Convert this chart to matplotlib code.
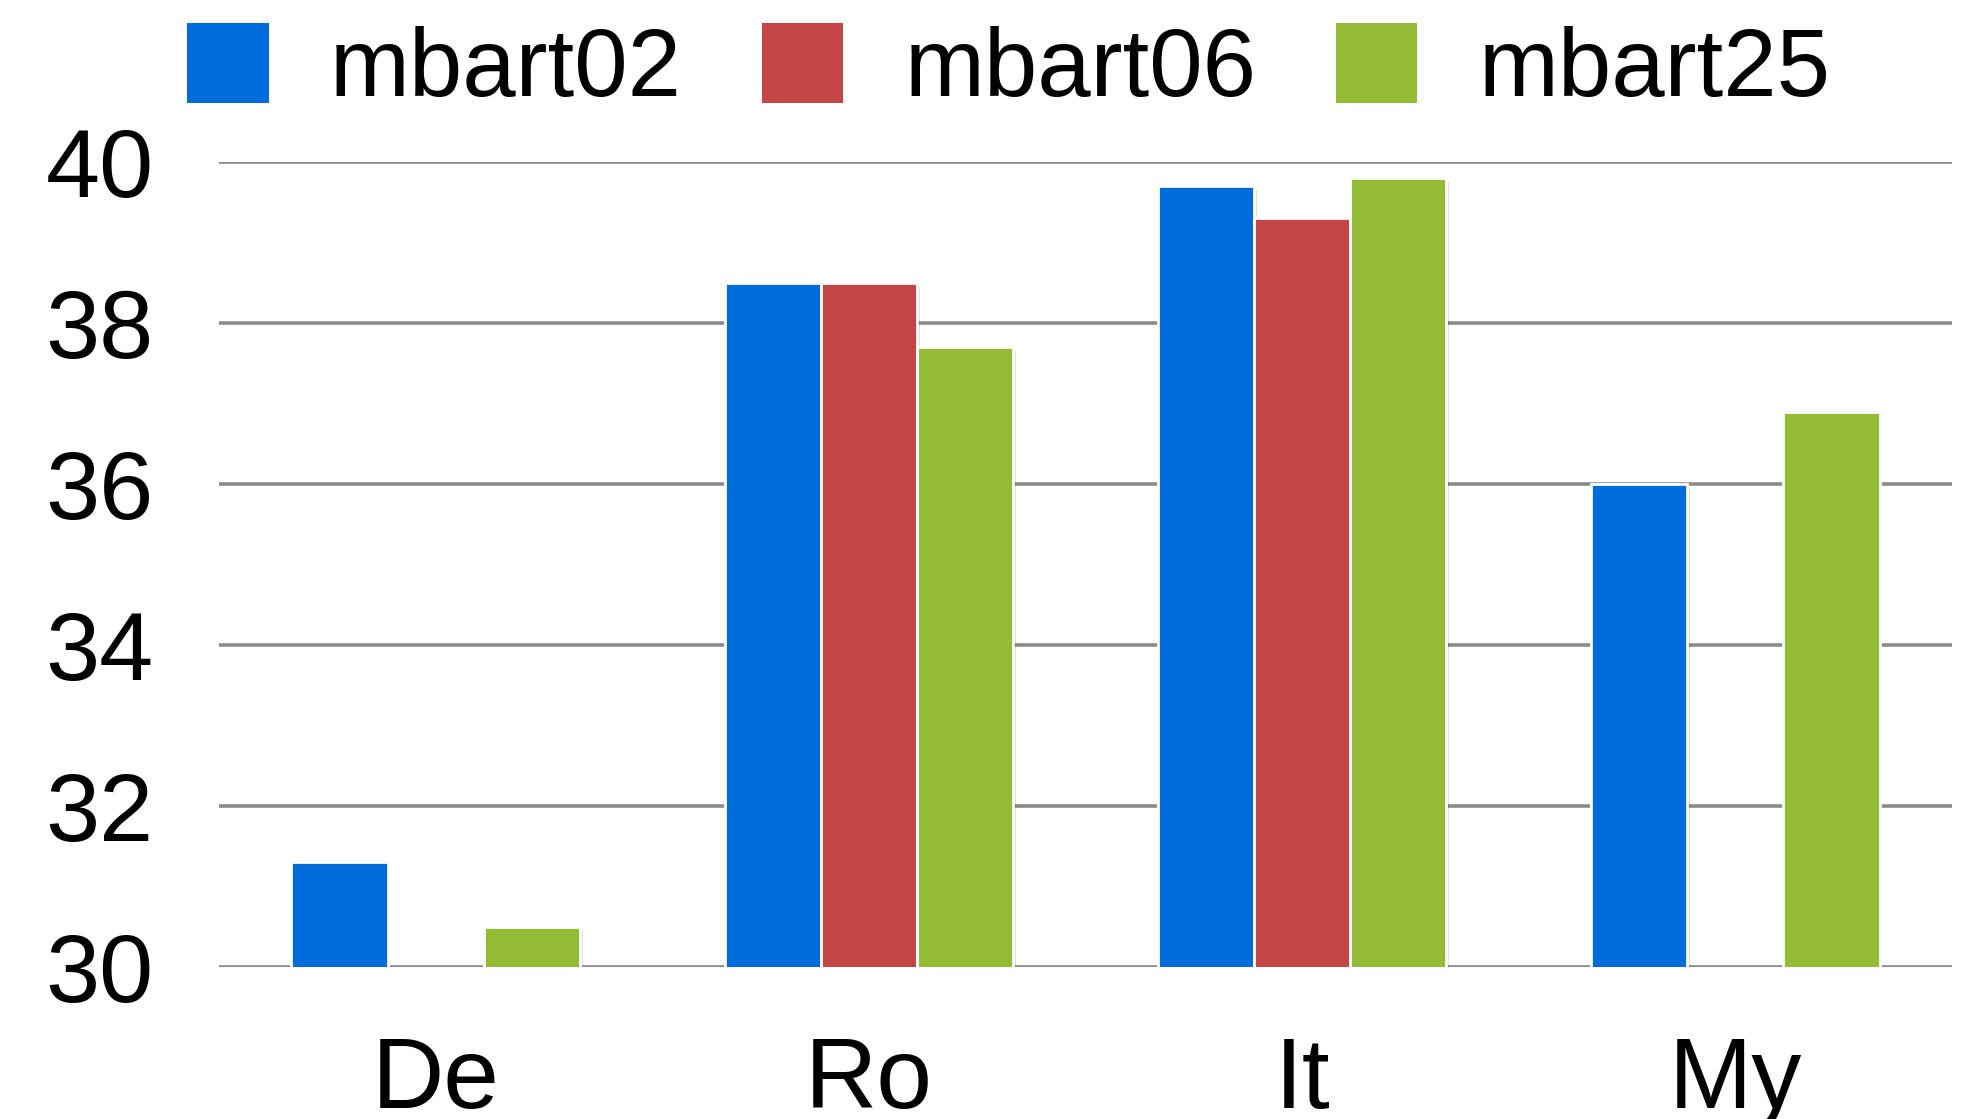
import numpy as np
import matplotlib
matplotlib.use("Agg")
import matplotlib.pyplot as plt
import matplotlib.patheffects as pe

plt.rcParams['font.family'] = ['Liberation Sans', 'DejaVu Sans']

# scores per language pair, NaN where a model has no result
langs = ["De", "Ro", "It", "My"]
models = ["mbart02", "mbart06", "mbart25"]
mbart02 = [31.3, 38.5, 39.7, 36.0]
mbart06 = [np.nan, 38.5, 39.3, np.nan]
mbart25 = [30.5, 37.7, 39.8, 36.9]
colors = ["#006cdc", "#c44545", "#94bb36"]
yticks = [30, 32, 34, 36, 38, 40]

fig = plt.figure(figsize=(19.61, 11.19), dpi=100)
ax = fig.add_axes([0.1117, 0.1358, 0.8837, 0.7194])

x = np.arange(len(langs))
step = 0.222
shadow = [pe.SimplePatchShadow(offset=(2, -3), shadow_rgbFace='k', alpha=0.12), pe.Normal()]
for i, (name, vals, c) in enumerate(zip(models, [mbart02, mbart06, mbart25], colors)):
    bars = ax.bar(x + (i - 1) * step, vals, width=step, bottom=0, color=c,
                  edgecolor="white", linewidth=2, label=name, zorder=3)
    for b in bars:
        b.set_path_effects(shadow)

ax.set_ylim(30, 40)
ax.set_xlim(-0.5, 3.5)
ax.set_yticks(yticks)
ax.set_xticks(x)
ax.set_xticklabels(langs)
ax.tick_params(axis='both', length=0)
ax.tick_params(axis='y', pad=47, labelsize=70)
ax.tick_params(axis='x', pad=49, labelsize=72)
ax.yaxis.grid(True, color="#8a8a8a", linewidth=2.6)
ax.set_axisbelow(True)
for s in ax.spines.values():
    s.set_visible(False)

leg = fig.legend(loc="upper left", bbox_to_anchor=(0.0759, 1.014), ncol=3, frameon=False,
                 fontsize=69, handlelength=0.85, handleheight=0.92,
                 handletextpad=0.64, columnspacing=0.83, borderaxespad=0)
for h in leg.legend_handles:
    h.set_path_effects([])
    h.set_edgecolor("none")

fig.savefig("out.png", dpi=100)
